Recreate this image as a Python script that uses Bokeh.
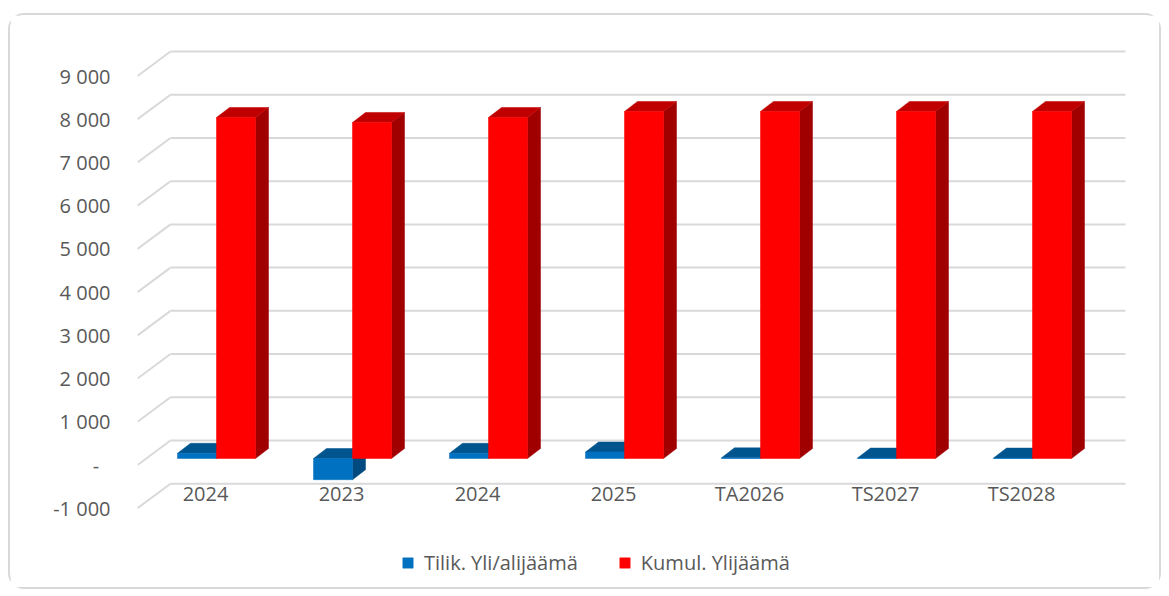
from bokeh.plotting import figure
from bokeh.models import Range1d, FixedTicker, Legend, LegendItem, ColumnDataSource
from bokeh.core.properties import value
from bokeh.embed import file_html
from bokeh.resources import INLINE

# ---- data ----
categories = ["2024", "2023", "2024", "2025", "TA2026", "TS2027", "TS2028"]
tilik = [120, -490, 120, 150, 15, 10, 10]          # Tilik. Yli/alijäämä
kumul = [7890, 7775, 7890, 8030, 8030, 8030, 8030]  # Kumul. Ylijäämä
series_names = ["Tilik. Yli/alijäämä", "Kumul. Ylijäämä"]
y_ticks = [-1000, 0, 1000, 2000, 3000, 4000, 5000, 6000, 7000, 8000, 9000]

def fmt(v):
    if v == 0:
        return "-\u2007"
    s = f"{abs(v):,}".replace(",", " ")
    return ("-" if v < 0 else "") + s

# ---- layout helpers (pixels -> data units) ----
PX_X = 136.0      # px per category
PX_Y = 0.04322    # px per value unit
def ux(px): return px / PX_X
def uy(px): return px / PX_Y

BACK_DX, BACK_DY = ux(33), uy(24.5)
BAR_DX, BAR_DY = ux(11), uy(6.5)
BAR_W = ux(39)
DEP_DX, DEP_DY = ux(13), uy(10)

W, H = 1153, 576
x_start, x_end = -0.5, (1149 - 205) / PX_X
y_end = uy(464.5 - 30)
y_start = -uy(580 - 464.5)

p = figure(width=W, height=H, x_range=Range1d(x_start, x_end),
           y_range=Range1d(y_start, y_end),
           output_backend="svg", toolbar_location=None,
           min_border_left=127, min_border_right=14, min_border_top=15, min_border_bottom=11)
p.styles = {"border": "2px solid #d9d9d9", "border-radius": "16px",
            "margin-top": "13px", "margin-left": "8px"}
p.outline_line_color = None
p.grid.visible = False
p.xaxis.visible = False
p.background_fill_color = "white"
p.border_fill_color = "white"

FONT = "Open Sans"
FSIZE = "20px"
TXT = "#595959"

ax = p.yaxis[0]
ax.ticker = FixedTicker(ticks=y_ticks)
ax.major_label_overrides = {t: fmt(t) for t in y_ticks}
ax.axis_line_color = None
ax.major_tick_line_color = None
ax.minor_tick_line_color = None
ax.major_label_standoff = 21
ax.major_label_text_font = FONT
ax.major_label_text_font_size = FSIZE
ax.major_label_text_color = TXT

# ---- back wall gridlines + left-wall diagonals ----
grid_x0 = x_start + BACK_DX
grid_x1 = (1125 - 205) / PX_X
gx, gy, dxs, dys = [], [], [], []
for t in y_ticks:
    gx.append([grid_x0, grid_x1]); gy.append([t + BACK_DY, t + BACK_DY])
    dxs.append([x_start, grid_x0]); dys.append([t, t + BACK_DY])
p.multi_line(gx, gy, line_color="#d9d9d9", line_width=2)
p.multi_line(dxs, dys, line_color="#d9d9d9", line_width=2)

# ---- 3D bars ----
colors = [("#0070C0", "#00558F", "#004A7F"), ("#FF0000", "#C00000", "#A00000")]
fronts = []
for s, vals in enumerate([tilik, kumul]):
    L, R, T, B = [], [], [], []
    top_xs, top_ys, side_xs, side_ys = [], [], [], []
    for i, v in enumerate(vals):
        x0 = i + BAR_DX - BAR_W + s * BAR_W
        x1 = x0 + BAR_W
        top = max(0, v) + BAR_DY
        bot = min(0, v) + BAR_DY
        L.append(x0); R.append(x1); T.append(top); B.append(bot)
        top_xs.append([x0, x1, x1 + DEP_DX, x0 + DEP_DX])
        top_ys.append([top, top, top + DEP_DY, top + DEP_DY])
        side_xs.append([x1, x1, x1 + DEP_DX, x1 + DEP_DX])
        side_ys.append([bot, top, top + DEP_DY, bot + DEP_DY])
    front_c, top_c, side_c = colors[s]
    p.patches(side_xs, side_ys, fill_color=side_c, line_color=side_c, line_width=0.5)
    p.patches(top_xs, top_ys, fill_color=top_c, line_color=top_c, line_width=0.5)
    r = p.quad(left=L, right=R, top=T, bottom=B, fill_color=front_c, line_color=front_c, line_width=0.5)
    fronts.append(r)

# ---- category labels ----
lab_src = ColumnDataSource(dict(x=list(range(len(categories))),
                                y=[-uy(493 - 464.5)] * len(categories),
                                t=categories))
p.text(x="x", y="y", text="t", source=lab_src, text_align="center", text_baseline="middle",
       text_font=value(FONT), text_font_size=FSIZE, text_color=TXT)

# ---- legend ----
legend = Legend(items=[LegendItem(label=series_names[0], renderers=[fronts[0]]),
                       LegendItem(label=series_names[1], renderers=[fronts[1]])],
                orientation="horizontal", location=(264, 4),
                glyph_width=13, glyph_height=13, label_standoff=10, spacing=40,
                padding=0, margin=0, border_line_color=None, background_fill_alpha=0,
                label_text_font=FONT, label_text_font_size=FSIZE, label_text_color=TXT)
p.add_layout(legend)

open("out.html", "w").write(file_html(p, INLINE))
